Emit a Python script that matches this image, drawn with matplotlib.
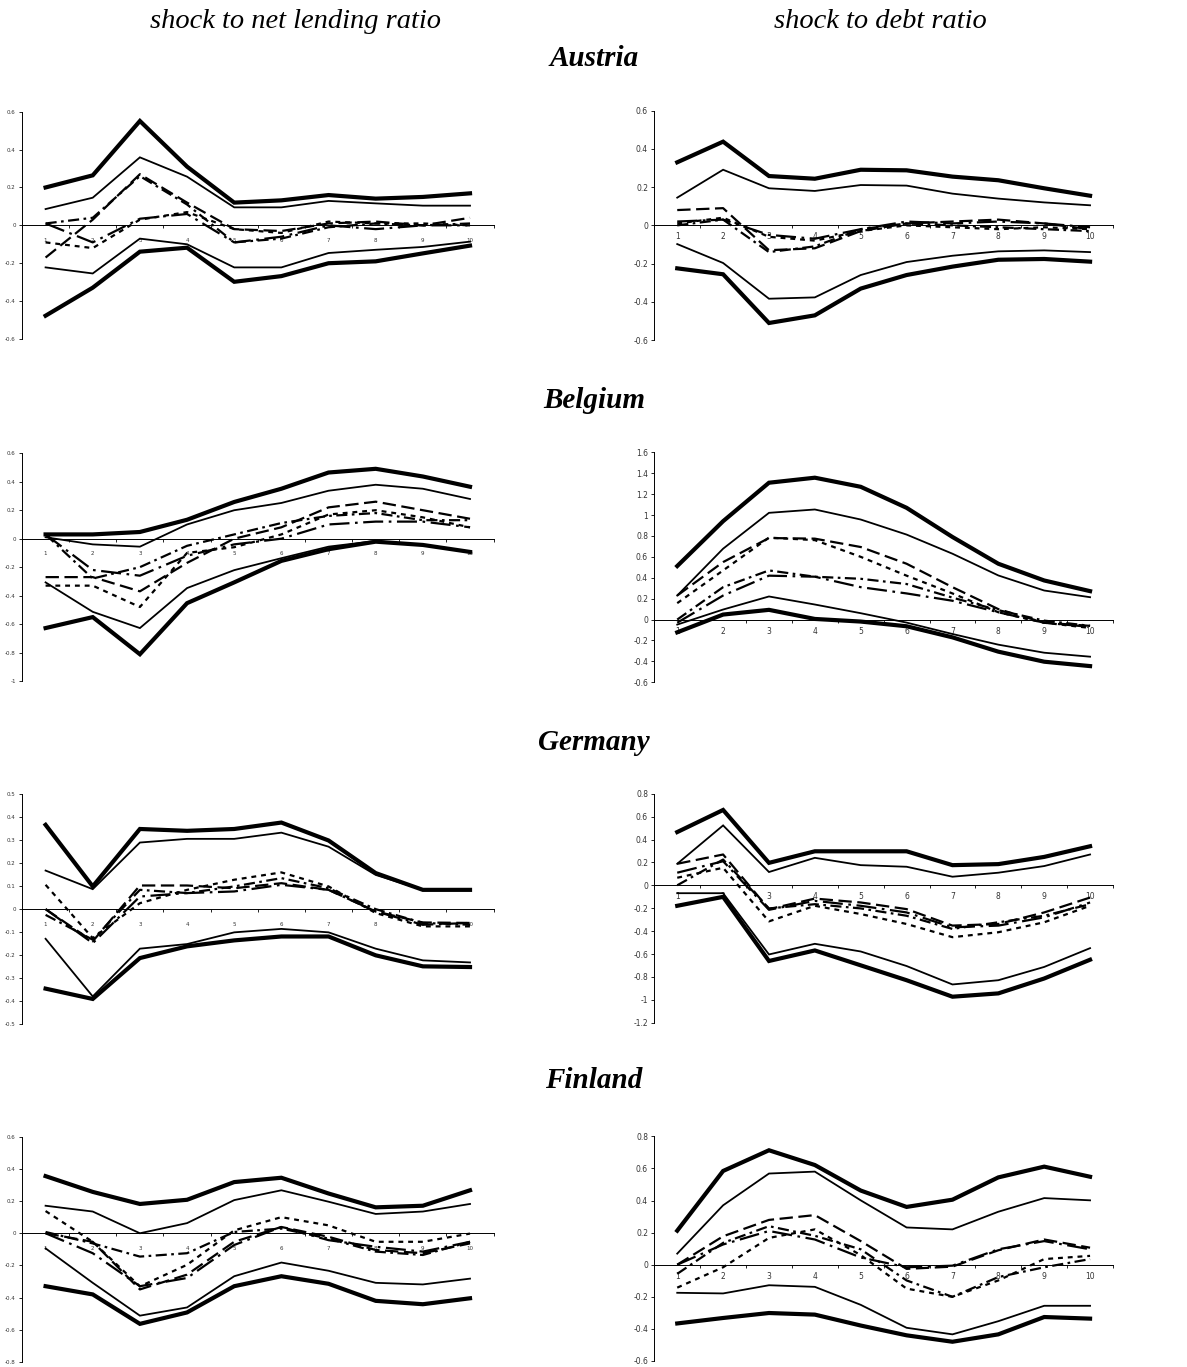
import matplotlib
matplotlib.use("Agg")
import matplotlib.pyplot as plt
import numpy as np

plt.rcParams['font.family'] = ['Liberation Serif', 'DejaVu Serif']

W, H = 1187, 1367
periods = list(range(1, 11))

countries = ["Austria", "Belgium", "Germany", "Finland"]
col_titles = ["shock to net lending ratio", "shock to debt ratio"]

# --- Austria ---
at_nl_hi95 = [0.20, 0.264, 0.551, 0.31, 0.12, 0.132, 0.16, 0.141, 0.15, 0.169]
at_nl_hi68 = [0.086, 0.146, 0.359, 0.257, 0.095, 0.095, 0.129, 0.116, 0.104, 0.104]
at_nl_lo68 = [-0.222, -0.254, -0.07, -0.10, -0.222, -0.222, -0.146, -0.129, -0.114, -0.086]
at_nl_lo95 = [-0.477, -0.329, -0.139, -0.118, -0.298, -0.268, -0.20, -0.19, -0.148, -0.107]
at_nl_m1 = [-0.17, 0.03, 0.27, 0.12, -0.02, -0.03, 0.01, 0.02, 0.0, 0.04]
at_nl_m2 = [-0.09, -0.12, 0.03, 0.07, -0.02, -0.04, 0.02, 0.01, 0.01, 0.0]
at_nl_m3 = [0.01, 0.04, 0.26, 0.11, -0.09, -0.07, -0.01, 0.01, 0.0, 0.01]
at_nl_m4 = [0.01, -0.09, 0.035, 0.06, -0.09, -0.06, 0.0, -0.02, 0.0, 0.0]

at_db_hi95 = [0.33, 0.438, 0.258, 0.244, 0.291, 0.288, 0.255, 0.236, 0.194, 0.155]
at_db_hi68 = [0.145, 0.291, 0.194, 0.18, 0.211, 0.208, 0.166, 0.14, 0.12, 0.105]
at_db_lo68 = [-0.098, -0.197, -0.384, -0.377, -0.26, -0.192, -0.159, -0.136, -0.131, -0.14]
at_db_lo95 = [-0.225, -0.256, -0.511, -0.471, -0.331, -0.26, -0.216, -0.18, -0.176, -0.19]
at_db_m1 = [0.08, 0.09, -0.13, -0.12, -0.03, 0.01, 0.02, 0.03, 0.01, -0.02]
at_db_m2 = [0.01, 0.04, -0.06, -0.08, -0.03, 0.0, -0.01, -0.02, -0.01, -0.02]
at_db_m3 = [0.0, 0.03, -0.14, -0.11, -0.02, 0.01, 0.0, -0.01, -0.02, -0.03]
at_db_m4 = [0.02, 0.03, -0.05, -0.07, -0.02, 0.02, 0.01, 0.02, 0.01, -0.01]

# --- Belgium ---
be_nl_hi95 = [0.03, 0.03, 0.047, 0.133, 0.258, 0.351, 0.465, 0.491, 0.437, 0.365]
be_nl_hi68 = [0.01, -0.04, -0.056, 0.10, 0.20, 0.251, 0.337, 0.379, 0.351, 0.279]
be_nl_lo68 = [-0.307, -0.514, -0.628, -0.347, -0.221, -0.137, -0.056, -0.016, -0.047, -0.093]
be_nl_lo95 = [-0.628, -0.551, -0.812, -0.453, -0.307, -0.156, -0.074, -0.021, -0.044, -0.093]
be_nl_m1 = [-0.27, -0.27, -0.37, -0.17, 0.0, 0.08, 0.22, 0.26, 0.20, 0.14]
be_nl_m2 = [-0.33, -0.33, -0.48, -0.10, -0.06, 0.03, 0.17, 0.20, 0.15, 0.08]
be_nl_m3 = [0.03, -0.28, -0.20, -0.05, 0.03, 0.11, 0.16, 0.18, 0.13, 0.13]
be_nl_m4 = [0.03, -0.22, -0.26, -0.12, -0.04, 0.0, 0.10, 0.12, 0.12, 0.08]

be_db_hi95 = [0.512, 0.941, 1.309, 1.357, 1.27, 1.069, 0.79, 0.534, 0.374, 0.272]
be_db_hi68 = [0.23, 0.678, 1.021, 1.053, 0.957, 0.813, 0.63, 0.422, 0.278, 0.214]
be_db_lo68 = [-0.048, 0.096, 0.221, 0.144, 0.061, -0.029, -0.138, -0.24, -0.317, -0.355]
be_db_lo95 = [-0.122, 0.048, 0.093, 0.006, -0.019, -0.064, -0.17, -0.307, -0.403, -0.445]
be_db_m1 = [0.23, 0.55, 0.78, 0.774, 0.694, 0.534, 0.31, 0.10, -0.03, -0.06]
be_db_m2 = [0.157, 0.47, 0.784, 0.76, 0.60, 0.42, 0.25, 0.07, -0.03, -0.08]
be_db_m3 = [0.0, 0.31, 0.47, 0.41, 0.39, 0.34, 0.21, 0.09, -0.01, -0.06]
be_db_m4 = [-0.03, 0.23, 0.42, 0.41, 0.31, 0.25, 0.18, 0.07, -0.03, -0.07]

# --- Germany ---
de_nl_hi95 = [0.367, 0.099, 0.349, 0.341, 0.349, 0.377, 0.299, 0.157, 0.084, 0.084]
de_nl_hi68 = [0.168, 0.087, 0.29, 0.306, 0.306, 0.333, 0.272, 0.149, 0.084, 0.084]
de_nl_lo68 = [-0.129, -0.38, -0.172, -0.152, -0.101, -0.086, -0.101, -0.172, -0.223, -0.232]
de_nl_lo95 = [-0.346, -0.391, -0.213, -0.162, -0.136, -0.119, -0.119, -0.201, -0.249, -0.252]
de_nl_m1 = [0.0, -0.14, 0.103, 0.103, 0.091, 0.113, 0.084, -0.01, -0.058, -0.06]
de_nl_m2 = [0.106, -0.126, 0.026, 0.084, 0.128, 0.16, 0.099, -0.017, -0.075, -0.075]
de_nl_m3 = [-0.025, -0.133, 0.084, 0.07, 0.099, 0.135, 0.091, 0.0, -0.06, -0.068]
de_nl_m4 = [0.0, -0.148, 0.055, 0.07, 0.077, 0.106, 0.084, -0.01, -0.068, -0.06]

de_db_hi95 = [0.465, 0.658, 0.196, 0.297, 0.297, 0.297, 0.176, 0.185, 0.248, 0.341]
de_db_hi68 = [0.188, 0.523, 0.116, 0.24, 0.176, 0.162, 0.075, 0.11, 0.168, 0.269]
de_db_lo68 = [-0.069, -0.069, -0.604, -0.511, -0.578, -0.705, -0.866, -0.829, -0.713, -0.549]
de_db_lo95 = [-0.179, -0.101, -0.661, -0.569, -0.699, -0.829, -0.973, -0.944, -0.814, -0.65]
de_db_m1 = [0.188, 0.269, -0.208, -0.116, -0.15, -0.208, -0.352, -0.338, -0.237, -0.107]
de_db_m2 = [0.066, 0.153, -0.315, -0.179, -0.251, -0.338, -0.453, -0.41, -0.323, -0.179]
de_db_m3 = [0.0, 0.225, -0.202, -0.165, -0.202, -0.266, -0.381, -0.323, -0.266, -0.165]
de_db_m4 = [0.11, 0.21, -0.214, -0.136, -0.179, -0.237, -0.367, -0.352, -0.28, -0.15]

# --- Finland ---
fi_nl_hi95 = [0.355, 0.257, 0.182, 0.208, 0.318, 0.345, 0.247, 0.161, 0.171, 0.267]
fi_nl_hi68 = [0.171, 0.135, 0.0, 0.063, 0.206, 0.267, 0.196, 0.12, 0.135, 0.182]
fi_nl_lo68 = [-0.094, -0.308, -0.512, -0.461, -0.267, -0.182, -0.233, -0.308, -0.318, -0.282]
fi_nl_lo95 = [-0.329, -0.38, -0.563, -0.492, -0.329, -0.267, -0.314, -0.42, -0.441, -0.404]
fi_nl_m1 = [0.0, -0.053, -0.349, -0.257, -0.053, 0.039, -0.022, -0.104, -0.124, -0.063]
fi_nl_m2 = [0.138, -0.053, -0.33, -0.196, 0.018, 0.10, 0.049, -0.053, -0.053, -0.002]
fi_nl_m3 = [0.008, -0.063, -0.145, -0.124, 0.008, 0.029, -0.033, -0.114, -0.135, -0.053]
fi_nl_m4 = [0.0, -0.124, -0.329, -0.278, -0.073, 0.039, -0.043, -0.084, -0.114, -0.053]

fi_db_hi95 = [0.212, 0.584, 0.713, 0.621, 0.462, 0.36, 0.405, 0.544, 0.611, 0.548]
fi_db_hi68 = [0.069, 0.37, 0.568, 0.58, 0.401, 0.232, 0.22, 0.33, 0.415, 0.401]
fi_db_lo68 = [-0.175, -0.179, -0.128, -0.138, -0.25, -0.393, -0.434, -0.352, -0.256, -0.256]
fi_db_lo95 = [-0.366, -0.332, -0.301, -0.311, -0.379, -0.44, -0.48, -0.434, -0.326, -0.336]
fi_db_m1 = [0.0, 0.177, 0.279, 0.309, 0.147, -0.026, -0.012, 0.09, 0.157, 0.106]
fi_db_m2 = [-0.143, -0.016, 0.167, 0.22, 0.06, -0.149, -0.20, -0.098, 0.035, 0.055]
fi_db_m3 = [-0.057, 0.136, 0.24, 0.18, 0.096, -0.098, -0.20, -0.077, -0.016, 0.035]
fi_db_m4 = [0.0, 0.126, 0.21, 0.157, 0.045, -0.016, -0.006, 0.096, 0.147, 0.096]

panels = {
    ("Austria", 0): [at_nl_hi95, at_nl_hi68, at_nl_lo68, at_nl_lo95, at_nl_m1, at_nl_m2, at_nl_m3, at_nl_m4],
    ("Austria", 1): [at_db_hi95, at_db_hi68, at_db_lo68, at_db_lo95, at_db_m1, at_db_m2, at_db_m3, at_db_m4],
    ("Belgium", 0): [be_nl_hi95, be_nl_hi68, be_nl_lo68, be_nl_lo95, be_nl_m1, be_nl_m2, be_nl_m3, be_nl_m4],
    ("Belgium", 1): [be_db_hi95, be_db_hi68, be_db_lo68, be_db_lo95, be_db_m1, be_db_m2, be_db_m3, be_db_m4],
    ("Germany", 0): [de_nl_hi95, de_nl_hi68, de_nl_lo68, de_nl_lo95, de_nl_m1, de_nl_m2, de_nl_m3, de_nl_m4],
    ("Germany", 1): [de_db_hi95, de_db_hi68, de_db_lo68, de_db_lo95, de_db_m1, de_db_m2, de_db_m3, de_db_m4],
    ("Finland", 0): [fi_nl_hi95, fi_nl_hi68, fi_nl_lo68, fi_nl_lo95, fi_nl_m1, fi_nl_m2, fi_nl_m3, fi_nl_m4],
    ("Finland", 1): [fi_db_hi95, fi_db_hi68, fi_db_lo68, fi_db_lo95, fi_db_m1, fi_db_m2, fi_db_m3, fi_db_m4],
}

# y ranges (bottom, top, step) per panel
yranges = {
    ("Austria", 0): (-0.6, 0.6, 0.2), ("Austria", 1): (-0.6, 0.6, 0.2),
    ("Belgium", 0): (-1.0, 0.6, 0.2), ("Belgium", 1): (-0.6, 1.6, 0.2),
    ("Germany", 0): (-0.5, 0.5, 0.1), ("Germany", 1): (-1.2, 0.8, 0.2),
    ("Finland", 0): (-0.8, 0.6, 0.2), ("Finland", 1): (-0.6, 0.8, 0.2),
}

# pixel boxes: (x0, x1, ytop, ybottom)
boxes = {
    ("Austria", 0): (22, 493.6, 111.7, 339), ("Austria", 1): (654.3, 1113, 110.7, 340),
    ("Belgium", 0): (22, 493.6, 453.3, 681), ("Belgium", 1): (654.3, 1113, 452.3, 682.3),
    ("Germany", 0): (22, 493.6, 794.3, 1024), ("Germany", 1): (654.3, 1113, 793.7, 1022.7),
    ("Finland", 0): (22, 493.6, 1136.7, 1362), ("Finland", 1): (654.3, 1113, 1136.3, 1361),
}
title_y = {"Austria": 58, "Belgium": 401, "Germany": 742, "Finland": 1080}

styles = [
    dict(lw=3.0, ls='-'),
    dict(lw=1.3, ls='-'),
    dict(lw=1.3, ls='-'),
    dict(lw=3.0, ls='-'),
    dict(lw=1.6, ls=(0, (6, 2.5))),
    dict(lw=1.6, ls=(0, (2.2, 2.2))),
    dict(lw=1.6, ls=(0, (5, 2, 1.2, 2))),
    dict(lw=1.6, ls=(0, (9, 2.5, 1.2, 2.5))),
]

fig = plt.figure(figsize=(W / 100, H / 100), dpi=100)

fig.text(295 / W, 1 - 22 / H, col_titles[0], style='italic', fontsize=20.5,
         ha='center', va='center')
fig.text(880 / W, 1 - 22 / H, col_titles[1], style='italic', fontsize=20.5,
         ha='center', va='center')

for c in countries:
    fig.text(594 / W, 1 - title_y[c] / H, c, style='italic', weight='bold',
             fontsize=21, ha='center', va='center')
    for side in (0, 1):
        x0, x1, yt, yb = boxes[(c, side)]
        ax = fig.add_axes([x0 / W, 1 - yb / H, (x1 - x0) / W, (yb - yt) / H])
        ax.spines['top'].set_visible(False)
        ax.spines['right'].set_visible(False)
        ax.spines['bottom'].set_position(('data', 0))
        ax.spines['left'].set_linewidth(0.7)
        ax.spines['bottom'].set_linewidth(0.7)
        lo, hi, step = yranges[(c, side)]
        for series, st in zip(panels[(c, side)], styles):
            ax.plot(periods, series, color='black', solid_joinstyle='miter', **st)
        ax.set_xlim(0.5, 10.5)
        ax.set_ylim(lo, hi)
        ticks = np.round(np.arange(lo, hi + step / 2, step), 2)
        ticks[np.abs(ticks) < 1e-9] = 0.0
        ax.set_yticks(ticks)
        ax.set_yticklabels([('%g' % abs(t)) if t == 0 else ('%g' % t) for t in ticks])
        ax.set_xticks(periods)
        ax.set_xticklabels([str(p) for p in periods])
        ax.set_xticks(np.arange(0.5, 11, 1), minor=True)
        fs = 4 if side == 0 else 5.5
        for lab in ax.get_xticklabels() + ax.get_yticklabels():
            lab.set_fontfamily('DejaVu Sans')
            lab.set_fontsize(fs)
            lab.set_color('#333333')
        ax.tick_params(axis='x', which='major', length=0, pad=5 if side else 9)
        ax.tick_params(axis='x', which='minor', length=2.5, width=0.6,
                       direction='out')
        ax.tick_params(axis='y', length=2.5, width=0.6, direction='out', pad=2)
        ax.patch.set_alpha(0)

fig.savefig("out.png", dpi=100)
